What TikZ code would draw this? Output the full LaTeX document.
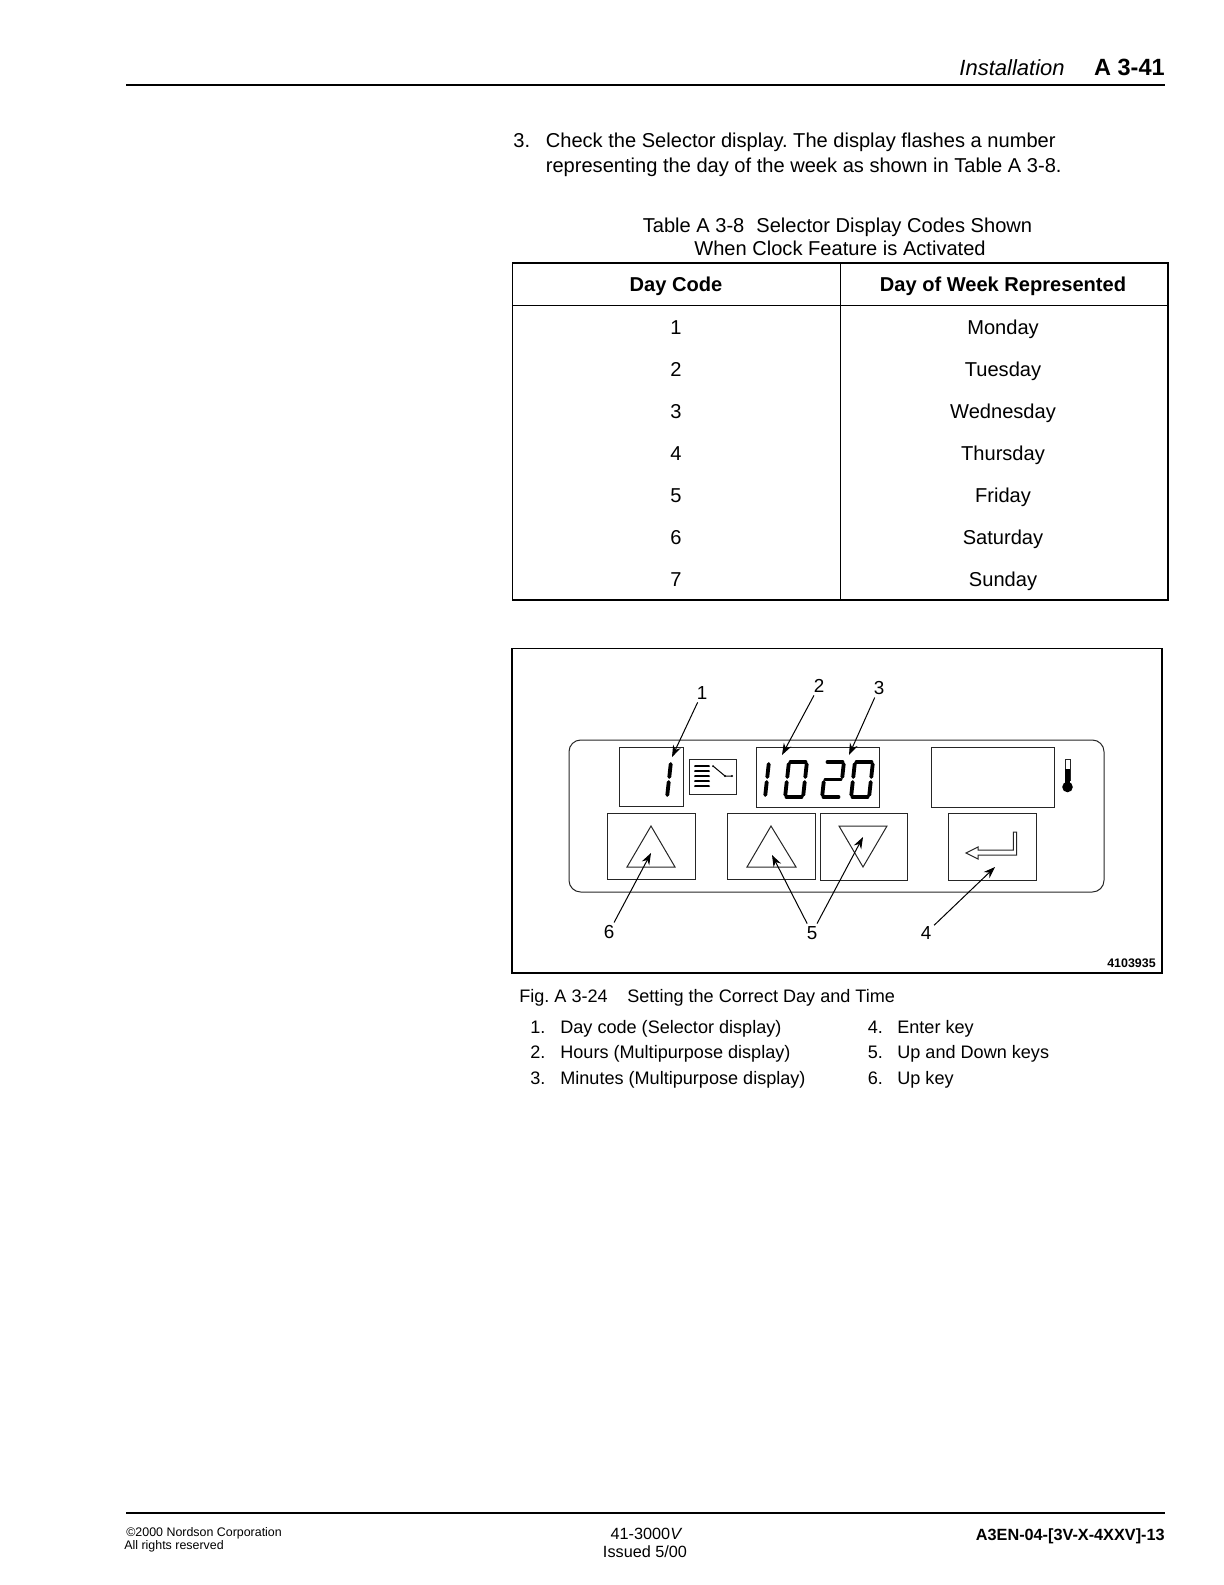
\documentclass[tikz,border=0pt]{standalone}
\usepackage{fontspec}
\setmainfont{Liberation Sans}
\usetikzlibrary{calc}
\usetikzlibrary{arrows.meta, positioning}
\frenchspacing

\tikzset{
	body/.style={inner sep=0pt, font=\fontsize{12.05}{14}\selectfont},
	listtext/.style={inner sep=0pt, font=\fontsize{10.85}{13}\selectfont},
	small/.style={inner sep=0pt, font=\fontsize{7.45}{9}\selectfont},
	callno/.style={inner sep=1.5pt, font=\fontsize{11.3}{12}\selectfont},
	frame/.style={draw=black, line width=0.65pt},
	thin box/.style={draw=black!85, line width=0.6pt},
	callout/.style={-{Stealth[length=7pt,width=5pt]}, black, line width=0.6pt},
	seg/.style={black, line width=2.3pt, line cap=round}
}

\begin{document}
\begin{tikzpicture}[x=0.6pt,y=-0.6pt]
		\newcommand{\digitW}{18}
		\newcommand{\digitSlant}{4}
		% seven segment helpers, #1 = left x at the bottom
		\newcommand{\segUpL}[1]{\draw[seg] (#1+\digitSlant-0.3,764) -- (#1+2.3,777);}
		\newcommand{\segLoL}[1]{\draw[seg] (#1+1.7,782) -- (#1+0.3,795);}
		\newcommand{\segUpR}[1]{\draw[seg] (#1+\digitW+\digitSlant-0.3,764) -- (#1+\digitW+2.3,777);}
		\newcommand{\segLoR}[1]{\draw[seg] (#1+\digitW+1.7,782) -- (#1+\digitW+0.3,795);}
		\newcommand{\segTop}[1]{\draw[seg] (#1+\digitSlant+1.5,762) -- (#1+\digitW+\digitSlant-1.5,762);}
		\newcommand{\segMid}[1]{\draw[seg] (#1+3.5,779.5) -- (#1+\digitW+0.5,779.5);}
		\newcommand{\segBot}[1]{\draw[seg] (#1+1.5,797) -- (#1+\digitW-1.5,797);}
		\newcommand{\digitZero}[1]{\segUpL{#1}\segLoL{#1}\segUpR{#1}\segLoR{#1}\segTop{#1}\segBot{#1}}
		\newcommand{\digitTwo}[1]{\segTop{#1}\segUpR{#1}\segMid{#1}\segLoL{#1}\segBot{#1}}
		
		\useasboundingbox (0,0) rectangle (1224,1585);
		
		% page header
		\node[body, anchor=base east, font=\fontsize{13.2}{14}\itshape] (hdrtitle) at (1065,75.5) {Installation};
		\node[body, anchor=base east, font=\fontsize{14.1}{14}\bfseries] (hdrpage) at (1165,75.5) {A 3-41};
		\draw[frame] (126,85) -- (1165,85);
		
		% step text
		\node[body, anchor=base west] (stepno) at (513,147) {3.};
		\node[body, anchor=base west] (stepa) at (545.5,147) {Check the Selector display. The display flashes a number};
		\node[body, anchor=base west] (stepb) at (545.5,172) {representing the day of the week as shown in Table A 3-8.};
		
		% table
		\node[body, anchor=base] (tabtitlea) at (837.5,232) {Table A 3-8\hspace{0.6em}Selector Display Codes Shown};
		\node[body, anchor=base] (tabtitleb) at (840,255) {When Clock Feature is Activated};
		\draw[frame] (512.5,263) rectangle (1168,600);
		\draw[frame] (512.5,305.5) -- (1168,305.5);
		\draw[frame] (840.5,263) -- (840.5,600);
		\node[body, anchor=base, font=\fontsize{12.05}{14}\bfseries] (headcode) at (676,291) {Day Code};
		\node[body, anchor=base, font=\fontsize{12.05}{14}\bfseries] (headday) at (1003,291) {Day of Week Represented};
		\foreach \rowNum/\rowY/\rowDay in {1/334/Monday,2/376/Tuesday,3/418/Wednesday,4/460/Thursday,5/502/Friday,6/544/Saturday,7/586/Sunday} {
			\node[body, anchor=base] (code\rowNum) at (676,\rowY) {\rowNum};
			\node[body, anchor=base] (day\rowNum) at (1003,\rowY) {\rowDay};
		}
		
		% figure frame and panel
		\draw[frame] (512,648.5) rectangle (1162,973);
		\draw[thin box, rounded corners=7pt] (569,740) rectangle (1104,892);
		
		% displays
		\draw[thin box] (619,747) rectangle (683,806);
		\draw[thin box] (756,747) rectangle (879,807);
		\draw[thin box] (931,747) rectangle (1054,807);
		\draw[thin box] (689,759) rectangle (736,794);
		
		% switch icon
		\foreach \iconY in {766,771,776,781,786} {
			\draw[black, line width=0.8pt] (695,\iconY) -- (709,\iconY);
			\fill[black] (695,\iconY) circle (1);
			\fill[black] (709,\iconY) circle (1);
		}
		\draw[black, line width=0.6pt] (713,766) -- (725,776) -- (732,776);
		\fill[black] (713,766) circle (1);
		\fill[black] (725,776) circle (1.2);
		\fill[black] (732,776) circle (1.2);
		
		% digits
		\segUpL{667}\segLoL{667}
		\segUpL{765}\segLoL{765}
		\digitZero{785}
		\digitTwo{822}
		\digitZero{851}
		
		% thermometer
		\draw[thin box] (1065,759) rectangle (1070,780);
		\fill[black] (1065,769) rectangle (1070,785);
		\fill[black] (1067.5,787) circle (5.3);
		
		% keys
		\draw[thin box] (607,813) rectangle (695,879);
		\draw[thin box] (727,813) rectangle (815,879);
		\draw[thin box] (820,813) rectangle (907,880);
		\draw[thin box] (948,813) rectangle (1036,880);
		\draw[thin box] (651,826) -- (627,867) -- (675,867) -- cycle;
		\draw[thin box] (771,826) -- (747,867) -- (796,867) -- cycle;
		\draw[thin box] (839,826) -- (887,826) -- (863,867) -- cycle;
		\draw[thin box] (966,853) -- (978,847) -- (978,850) -- (1013.3,850) -- (1013.3,832) -- (1016.7,832) -- (1016.7,855) -- (978,855) -- (978,859) -- cycle;
		
		% callouts
		\node[callno] (lab1) at (702,693) {1};
		\node[callno] (lab2) at (819,686) {2};
		\node[callno] (lab3) at (879,688) {3};
		\node[callno] (lab4) at (926,933) {4};
		\node[callno] (lab5) at (812,933) {5};
		\node[callno] (lab6) at (609,932) {6};
		\coordinate (tip1) at (672,757);
		\coordinate (tip2) at (782,755);
		\coordinate (tip3) at (849,755);
		\coordinate (tip4) at (995,867);
		\coordinate (tip5a) at (772,855);
		\coordinate (tip5b) at (863,837);
		\coordinate (tip6) at (651,853);
		\draw[callout] (lab1) -- (tip1);
		\draw[callout] (lab2) -- (tip2);
		\draw[callout] (lab3) -- (tip3);
		\draw[callout] (lab4) -- (tip4);
		\draw[callout] (lab5) -- (tip5a);
		\draw[callout] (lab5) -- (tip5b);
		\draw[callout] (lab6) -- (tip6);
		\node[small, anchor=base east, font=\fontsize{7.45}{9}\bfseries] (partno) at (1156,967) {4103935};
		
		% caption and key list
		\node[listtext, anchor=base west] (figno) at (519,1002) {Fig. A 3-24};
		\node[listtext, anchor=base west] (figtitle) at (627,1002) {Setting the Correct Day and Time};
		\foreach \itemNum/\itemY/\itemText in {1/1033/Day code (Selector display),2/1058/Hours (Multipurpose display),3/1084/Minutes (Multipurpose display)} {
			\node[listtext, anchor=base west] (numl\itemNum) at (530,\itemY) {\itemNum.};
			\node[listtext, anchor=base west] (iteml\itemNum) at (560,\itemY) {\itemText};
		}
		\foreach \itemNum/\itemY/\itemText in {4/1033/Enter key,5/1058/Up and Down keys,6/1084/Up key} {
			\node[listtext, anchor=base west] (numr\itemNum) at (867.5,\itemY) {\itemNum.};
			\node[listtext, anchor=base west] (itemr\itemNum) at (897,\itemY) {\itemText};
		}
		
		% page footer
		\draw[frame] (126,1513) -- (1165,1513);
		\node[small, anchor=base west] (copya) at (126,1536) {©2000 Nordson Corporation};
		\node[small, anchor=base west] (copyb) at (124,1549) {All rights reserved};
		\node[body, anchor=base, font=\fontsize{9.75}{12}\selectfont] (docno) at (646.5,1539) {41-3000\textit{V}};
		\node[body, anchor=base, font=\fontsize{9.75}{12}\selectfont] (issued) at (645,1557) {Issued 5/00};
		\node[body, anchor=base east, font=\fontsize{9.75}{12}\bfseries] (partcode) at (1165,1540) {A3EN-04-[3V-X-4XXV]-13};
		\end{tikzpicture}
\end{document}
